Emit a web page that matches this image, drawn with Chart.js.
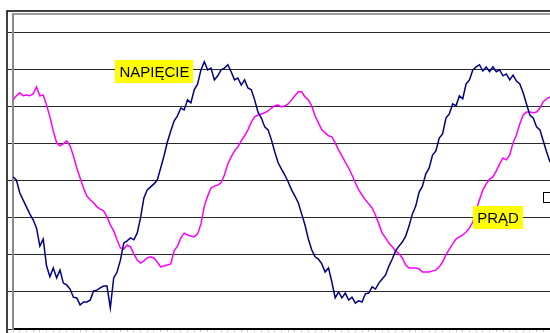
<!DOCTYPE html>
<html>
<head>
<meta charset="utf-8">
<script src="https://cdn.jsdelivr.net/npm/chart.js@4.4.1/dist/chart.umd.min.js"></script>
<style>
  body { margin: 0; background: #fff; overflow: hidden; }
</style>
</head>
<body>
<canvas id="myChart" width="550" height="333"></canvas>
<script>
// one sample every 0.25 ms, 0..40 ms (two mains periods)
const sampleStep = 0.25;

const voltage = [
   11,    3,  -32,  -51,  -70,  -89, -105, -127, -176, -157,
 -230, -259, -235, -262, -241, -276, -281, -292, -314, -316,
 -335, -327, -327, -322, -297, -295, -289, -284, -284, -343,
 -262, -246, -214, -168, -162, -154, -159, -141, -100,  -46,
  -24,  -16,   -8,    3,   35,   68,  105,  135,  162,  176,
  197,  192,  219,  211,  246,  262,  300,  322,  300,  305,
  273,  284,  300,  305,  314,  295,  273,  278,  259,  273,
  251,  246,  219,  186,  170,  146,  138,  111,   78,   49,
   32,   16,   -3,  -24,  -41,  -59,  -89, -119, -157, -186,
 -205, -211, -224, -246, -235, -273, -316, -300, -316, -303,
 -322, -314, -330, -324, -327, -305, -303, -286, -292, -276,
 -265, -254, -230, -211, -189, -176, -165, -149, -122,  -89,
  -68,  -30,  -14,   19,   35,   70,   81,  116,  127,  170,
  181,  208,  203,  230,  222,  262,  273,  300,  308,  314,
  297,  308,  295,  308,  295,  300,  284,  289,  273,  286,
  270,  262,  238,  208,  178,  170,  146,  138,  108,   78,
   51
];

const current = [
  219,  230,  238,  230,  232,  230,  235,  254,  230,  232,
  205,  173,  135,  103,   95,  100,  108,   95,   68,   35,
    8,  -19,  -41,  -51,  -59,  -70,  -76,  -81,  -97, -119,
 -135, -159, -181, -184, -173, -178, -197, -214, -222, -216,
 -208, -205, -208, -219, -232, -230, -227, -224, -189, -176,
 -154, -141, -146, -149, -151, -143, -116,  -68,  -41,  -19,
  -14,  -11,   -5,   16,   46,   65,   81,   92,  108,  122,
  138,  159,  173,  178,  181,  184,  189,  197,  203,  205,
  200,  203,  208,  219,  230,  241,  241,  227,  219,  203,
  176,  157,  138,  130,  122,  119,  103,   84,   68,   51,
   35,   16,   -5,  -24,  -38,  -51,  -62,  -73,  -92, -116,
 -141, -154, -168, -178, -189, -197, -208, -227, -235, -235,
 -235, -238, -246, -246, -246, -243, -241, -232, -219, -200,
 -184, -170, -157, -151, -146, -138, -127, -111,  -78,  -51,
  -24,   -8,    5,   11,   27,   46,   62,   57,   70,  103,
  124,  154,  178,  186,  186,  184,  186,  197,  214,  222,
  227
];

const timeMs = voltage.map((v, i) => i * sampleStep);
const yTicks = [-400, -300, -200, -100, 0, 100, 200, 300, 400];

// series captions sitting on the plot
const captions = [
  { text: 'NAPIĘCIE', t: 10.54, v: 296 },
  { text: 'PRĄD', t: 36.13, v: -99 }
];

const FONT = '"Liberation Sans", Arial, sans-serif';

const framePlugin = {
  id: 'frame',
  beforeDraw(chart) {
    const ctx = chart.ctx, a = chart.chartArea;
    ctx.save();
    ctx.fillStyle = '#fff';
    ctx.fillRect(0, 0, chart.width, chart.height);
    // outer chart border
    ctx.strokeStyle = '#000';
    ctx.lineWidth = 1.5;
    ctx.beginPath();
    ctx.moveTo(7, chart.height);
    ctx.lineTo(7, 11);
    ctx.lineTo(chart.width, 11);
    ctx.stroke();
    // plot area top edge
    ctx.strokeStyle = '#9a9a9a';
    ctx.lineWidth = 2;
    ctx.beginPath();
    ctx.moveTo(a.left, a.top);
    ctx.lineTo(a.right, a.top);
    ctx.stroke();
    ctx.restore();
  },
  afterDatasetsDraw(chart) {
    const ctx = chart.ctx, a = chart.chartArea;
    const xs = chart.scales.x, ys = chart.scales.y;
    ctx.save();
    ctx.font = '15px ' + FONT;
    ctx.textAlign = 'center';
    ctx.textBaseline = 'middle';
    captions.forEach(c => {
      const px = xs.getPixelForValue(c.t);
      const py = ys.getPixelForValue(c.v);
      const w = ctx.measureText(c.text).width + 8;
      const h = 23;
      ctx.fillStyle = '#ffff00';
      ctx.fillRect(Math.round(px - w / 2), Math.round(py - h / 2), Math.round(w), h);
      ctx.fillStyle = '#000';
      ctx.fillText(c.text, px, py + 1);
    });
    // edge of the legend key, cut off by the right border
    ctx.fillStyle = '#fff';
    ctx.strokeStyle = '#000';
    ctx.lineWidth = 1;
    ctx.fillRect(a.right - 7, 192, 8, 10);
    ctx.strokeRect(a.right - 6.5, 192.5, 8, 10);
    ctx.restore();
  }
};

const config = {
  type: 'line',
  data: {
    datasets: [
      {
        label: 'NAPIĘCIE',
        data: voltage.map((v, i) => ({ x: timeMs[i], y: v })),
        borderColor: '#000080',
        borderWidth: 1.5,
        pointRadius: 0,
        tension: 0
      },
      {
        label: 'PRĄD',
        data: current.map((v, i) => ({ x: timeMs[i], y: v })),
        borderColor: '#ff00ff',
        borderWidth: 1.5,
        pointRadius: 0,
        tension: 0
      }
    ]
  },
  options: {
    responsive: false,
    devicePixelRatio: 1,
    animation: false,
    layout: { padding: { left: 0, top: 14, right: 0, bottom: 0 } },
    plugins: { legend: { display: false }, tooltip: { enabled: false } },
    scales: {
      x: {
        type: 'linear',
        min: 0,
        max: 40,
        ticks: { display: false, stepSize: 0.5 },
        grid: { drawOnChartArea: false, tickLength: 3, color: '#c8c8c8' },
        border: { color: '#000', width: 2 },
        afterFit(s) { s.height = 4; }
      },
      y: {
        min: -400,
        max: 451,
        afterBuildTicks(s) { s.ticks = yTicks.map(v => ({ value: v })); },
        ticks: { display: false },
        grid: { color: '#2a2a2a', lineWidth: 1, tickLength: 5 },
        border: { color: '#8c8c8c', width: 2 },
        afterFit(s) { s.width = 13; }
      }
    }
  },
  plugins: [framePlugin]
};

const myChart = new Chart(document.getElementById('myChart'), config);
</script>
</body>
</html>
